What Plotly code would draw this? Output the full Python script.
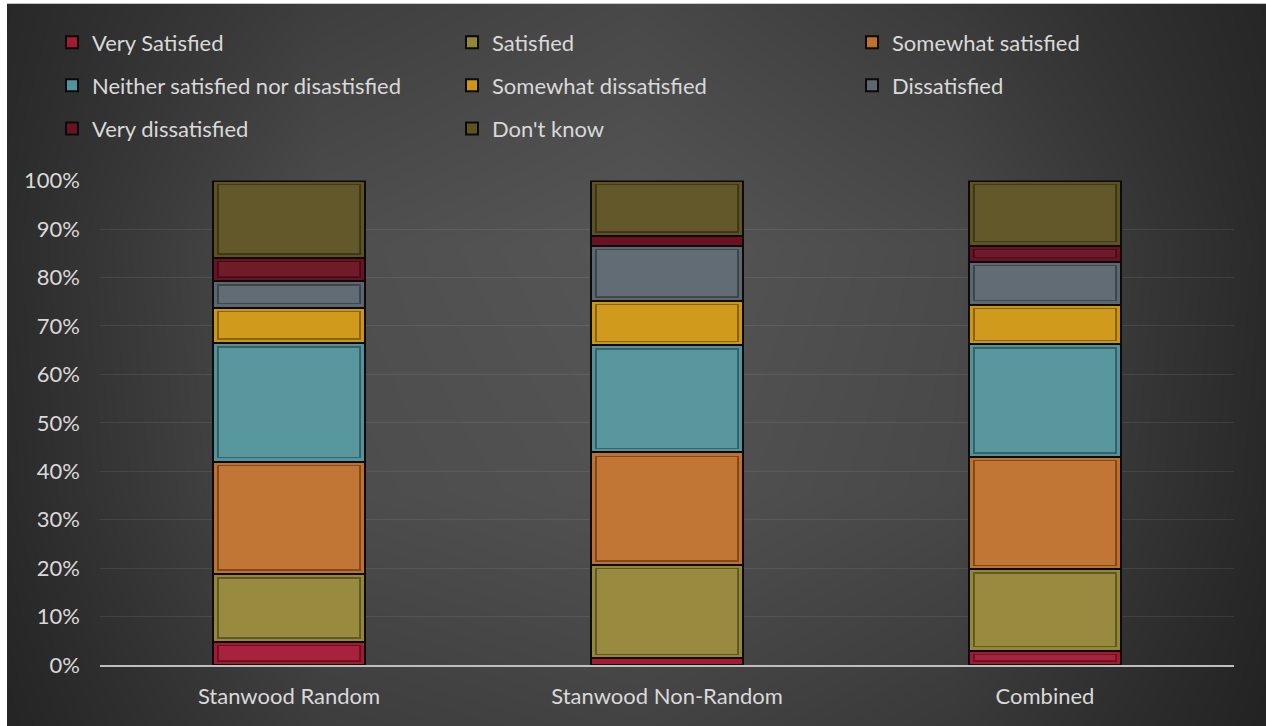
import plotly.graph_objects as go

categories = ["Stanwood Random", "Stanwood Non-Random", "Combined"]
series_names = ["Very Satisfied", "Satisfied", "Somewhat satisfied",
                "Neither satisfied nor disastisfied", "Somewhat dissatisfied",
                "Dissatisfied", "Very dissatisfied", "Don't know"]
very_satisfied = [4.8, 1.4, 3.0]
satisfied = [14.0, 19.3, 16.8]
somewhat_satisfied = [23.2, 23.2, 23.2]
neither = [24.5, 22.1, 23.2]
somewhat_dissatisfied = [7.3, 9.2, 8.2]
dissatisfied = [5.5, 11.4, 8.9]
very_dissatisfied = [4.8, 2.0, 3.3]
dont_know = [15.9, 11.4, 13.4]
tick_vals = [0, 10, 20, 30, 40, 50, 60, 70, 80, 90, 100]
tick_text = ["0%", "10%", "20%", "30%", "40%", "50%", "60%", "70%", "80%", "90%", "100%"]

series_values = [very_satisfied, satisfied, somewhat_satisfied, neither,
                 somewhat_dissatisfied, dissatisfied, very_dissatisfied, dont_know]
colors = ["#a31b33", "#948738", "#c0712d", "#53939b",
          "#cf9613", "#5c6770", "#6a1222", "#5d5222"]
legend_ids = ["legend", "legend", "legend", "legend2", "legend2", "legend2", "legend3", "legend3"]

W = 1266
SHIFT = 15          # figure is placed 15px above the page top
HF = 754 + SHIFT    # figure height in page pixels
FONT = "Lato"
TXT = "#d9d9d9"

fig = go.Figure()

# background gradient (styling only)
TOPWHITE = 4.6
bg_x = [0, 316, 633, 950, 1266]
bg_y = [0, 256, 512, 769]
bg_z = [[40, 62, 72, 58, 38],
        [44, 78, 86, 74, 42],
        [42, 76, 82, 72, 40],
        [36, 60, 66, 56, 34]]
fig.add_trace(go.Heatmap(x=bg_x, y=bg_y, z=bg_z, zmin=0, zmax=255, zsmooth="best",
                         colorscale=[[0, "rgb(0,0,0)"], [1, "rgb(255,255,255)"]],
                         showscale=False, hoverinfo="skip", xaxis="x", yaxis="y"))

for name, vals, col, lg in zip(series_names, series_values, colors, legend_ids):
    fig.add_trace(go.Bar(x=categories, y=vals, name=name, legend=lg,
                         marker=dict(color=col, line=dict(color="#0b0b0b", width=2)),
                         xaxis="x2", yaxis="y2"))

# inner bevel outlines (decoration derived from the same data)
INSET = 0.8
cum = [0.0, 0.0, 0.0]
for vals in series_values:
    ys, bs = [], []
    for i, v in enumerate(vals):
        if v > 2.5 * INSET:
            ys.append(v - 2 * INSET)
            bs.append(cum[i] + INSET)
        else:
            ys.append(None)
            bs.append(None)
        cum[i] += v
    fig.add_trace(go.Bar(x=categories, y=ys, base=bs, width=0.375, showlegend=False,
                         hoverinfo="skip",
                         marker=dict(color="rgba(255,255,255,0.04)",
                                     line=dict(color="rgba(0,0,0,0.35)", width=1.5)),
                         xaxis="x2", yaxis="y2"))

x0 = 100 / W
x1 = 1234 / W
y0 = 1 - (675.3 + SHIFT) / HF
y1 = 1 - (173.2 + SHIFT) / HF

leg_common = dict(orientation="h", xanchor="left", yanchor="middle",
                  font=dict(family=FONT, size=22, color=TXT),
                  bgcolor="rgba(0,0,0,0)", entrywidth=355, entrywidthmode="pixels",
                  itemwidth=30, traceorder="normal")

fig.update_layout(
    width=W, height=HF,
    margin=dict(l=0, r=0, t=0, b=0),
    paper_bgcolor="white",
    plot_bgcolor="rgba(0,0,0,0)",
    barmode="stack",
    bargap=0.6,
    xaxis=dict(domain=[7 / W, 1], range=[0, 1266], visible=False, fixedrange=True),
    yaxis=dict(domain=[0, 1 - TOPWHITE / HF], range=[HF, TOPWHITE], visible=False,
               fixedrange=True),
    xaxis2=dict(domain=[x0, x1], anchor="y2", showgrid=False, zeroline=False,
                showline=True, linecolor="#bfbfbf", linewidth=2,
                tickfont=dict(family=FONT, size=22, color=TXT), ticks="",
                ticklabelstandoff=11),
    yaxis2=dict(domain=[y0, y1], anchor="x2", range=[0, 100], tickvals=tick_vals,
                ticktext=tick_text, showgrid=True, gridcolor="rgba(255,255,255,0.08)",
                gridwidth=1, zeroline=False, showline=False, ticks="",
                tickfont=dict(family=FONT, size=22, color=TXT), ticklabelstandoff=19),
    legend=dict(x=52 / W, y=1 - (30.1 + SHIFT) / HF, **leg_common),
    legend2=dict(x=52 / W, y=1 - (74.7 + SHIFT) / HF, **leg_common),
    legend3=dict(x=52 / W, y=1 - (119.3 + SHIFT) / HF, **leg_common),
    showlegend=True,
)

fig.write_html("out.html",
               config={"displayModeBar": False},
               post_script="document.body.style.margin='0';"
                           "document.documentElement.style.overflow='hidden';"
                           "document.body.style.overflow='hidden';"
                           "var d=document.getElementById('{plot_id}');"
                           "d.style.position='fixed';d.style.top='-15px';d.style.left='0px';")
